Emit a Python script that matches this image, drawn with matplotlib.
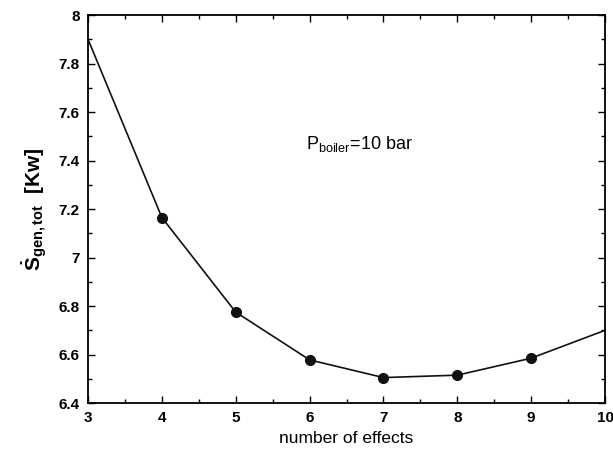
import numpy as np
import matplotlib
matplotlib.use('Agg')
import matplotlib.pyplot as plt
from matplotlib.ticker import MultipleLocator

plt.rcParams['font.family'     ] = 'Liberation Sans'
plt.rcParams['mathtext.fontset'] = 'custom'
plt.rcParams['mathtext.rm'     ] = 'Liberation Sans'
plt.rcParams['mathtext.bf'     ] = 'Liberation Sans:bold'
plt.rcParams['mathtext.it'     ] = 'Liberation Sans:italic'
plt.rcParams['xtick.direction' ] = 'in'
plt.rcParams['ytick.direction' ] = 'in'
plt.rcParams['xtick.top'       ] = True
plt.rcParams['ytick.right'     ] = True
plt.rcParams['xtick.major.size'] = 5
plt.rcParams['xtick.minor.size'] = 3
plt.rcParams['ytick.major.size'] = 5
plt.rcParams['ytick.minor.size'] = 3
plt.rcParams['xtick.major.width'] = 1.0
plt.rcParams['xtick.minor.width'] = 1.0
plt.rcParams['ytick.major.width'] = 1.0
plt.rcParams['ytick.minor.width'] = 1.0

effects = [3, 4, 5, 6, 7, 8, 9, 10]
s_gen   = [7.90, 7.165, 6.775, 6.578, 6.505, 6.515, 6.585, 6.70]

fig = plt.figure(figsize=(6.13, 4.58), dpi=100)
ax = fig.add_axes([0.1436, 0.120, 0.8434, 0.847])

ax.plot(effects, s_gen, color='#111111', lw=1.2)
ax.plot(effects[1:-1], s_gen[1:-1], 'o', color='#111111', ms=7)

ax.set_xlim(3, 10)
ax.set_ylim(6.4, 8)
ax.set_xticks(np.arange(3, 11, 1))
ax.xaxis.set_minor_locator(MultipleLocator(0.5))
ax.set_yticks(np.arange(6.4, 8.01, 0.2))
ax.set_yticklabels(['6.4', '6.6', '6.8', '7', '7.2', '7.4', '7.6', '7.8', '8'])
ax.yaxis.set_minor_locator(MultipleLocator(0.1))
for lab in ax.get_xticklabels() + ax.get_yticklabels():
    lab.set_fontweight('bold')
    lab.set_fontsize(11)
ax.tick_params(pad=6)
for sp in ax.spines.values():
    sp.set_linewidth(1.3)

ax.set_xlabel('number of effects', fontsize=12.5, labelpad=4)
ax.set_ylabel(r'$\mathbf{\dot{S}_{gen,tot}}$  [Kw]', fontsize=15,
              fontweight='bold', labelpad=6)

ax.text(5.95, 7.47, r'P$_{\mathrm{boiler}}$=10 bar', fontsize=13,
        ha='left', va='center')

plt.savefig('out.png', dpi=100)
